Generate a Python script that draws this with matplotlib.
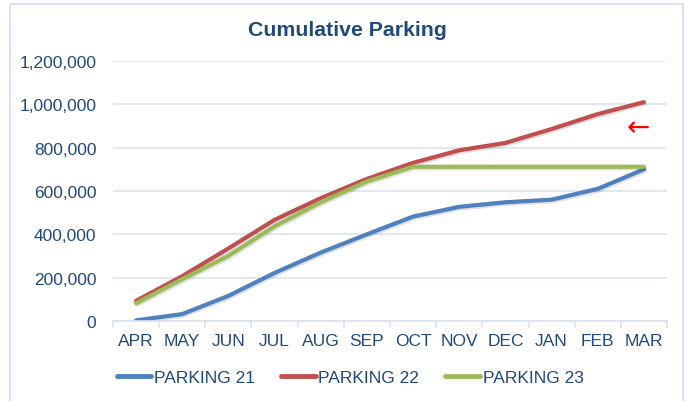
import matplotlib.pyplot as plt
import matplotlib.patheffects as pe
from matplotlib.patches import Rectangle
from matplotlib.ticker import FuncFormatter, MultipleLocator, FixedLocator

months = ['APR', 'MAY', 'JUN', 'JUL', 'AUG', 'SEP', 'OCT', 'NOV', 'DEC', 'JAN', 'FEB', 'MAR']
parking_21 = [3000, 32000, 116000, 222000, 316000, 400000, 482000, 527000, 548000, 560000, 610000, 700000]
parking_22 = [93000, 207000, 335000, 467000, 567000, 656000, 730000, 788000, 822000, 886000, 955000, 1010000]
parking_23 = [82000, 193000, 301000, 437000, 548000, 644000, 712000, 712000, 712000, 712000, 712000, 712000]
series_names = ['PARKING 21', 'PARKING 22', 'PARKING 23']

text_col = '#1F497D'
grid_col = '#D9E4F1'
colors = ['#4F81BD', '#C0504D', '#9BBB59']

plt.rcParams['font.family'] = ['Liberation Sans', 'DejaVu Sans']

fig = plt.figure(figsize=(6.91, 4.02), dpi=100)
ax = fig.add_axes([113 / 691, 80 / 402, 554 / 691, 260 / 402])

# chart frame
fig.patches.append(Rectangle((10 / 691, -0.01), 673 / 691, 1 - 5 / 402 + 0.01,
                             transform=fig.transFigure, fill=False,
                             edgecolor=grid_col, linewidth=1.5))

x = list(range(len(months)))
shadow = [pe.SimpleLineShadow(offset=(0.8, -1.2), alpha=0.12), pe.Normal()]
for vals, name, c in zip([parking_21, parking_22, parking_23], series_names, colors):
    ax.plot(x, vals, color=c, linewidth=3, label=name,
            solid_capstyle='round', path_effects=shadow)

ax.set_xlim(-0.5, len(months) - 0.5)
ax.set_ylim(0, 1200000)
ax.yaxis.set_major_locator(MultipleLocator(200000))
ax.yaxis.set_major_formatter(FuncFormatter(lambda v, p: f'{int(v):,}'))
ax.set_xticks(x)
ax.set_xticklabels(months)
ax.xaxis.set_minor_locator(FixedLocator([i - 0.5 for i in range(len(months) + 1)]))
ax.tick_params(axis='x', which='major', length=0, pad=9, labelsize=12.5, labelcolor=text_col)
ax.tick_params(axis='x', which='minor', length=5, color=grid_col, width=1.2)
ax.tick_params(axis='y', length=0, pad=12, labelsize=12.5, labelcolor=text_col)

ax.grid(axis='y', color=grid_col, linewidth=1.2)
ax.set_axisbelow(True)
for s in ['top', 'right', 'left']:
    ax.spines[s].set_visible(False)
ax.spines['bottom'].set_color(grid_col)
ax.spines['bottom'].set_linewidth(1.2)

fig.text(347 / 691, 1 - 30 / 402, 'Cumulative Parking', ha='center', va='center',
         fontsize=15.3, fontweight='bold', color=text_col)
fig.text(638 / 691, 1 - 128 / 402, '←', ha='center', va='center',
         fontsize=20, color='#FF0000', family=['DejaVu Sans'])

leg = fig.legend(loc='center', bbox_to_anchor=(350 / 691, 24 / 402), ncol=3,
                 frameon=False, fontsize=12.5, handlelength=2.0,
                 handletextpad=0.15, columnspacing=1.5)
for t in leg.get_texts():
    t.set_color(text_col)
for h in leg.get_lines():
    h.set_linewidth(3.5)
    h.set_path_effects([])

fig.savefig('out.png', dpi=100)
